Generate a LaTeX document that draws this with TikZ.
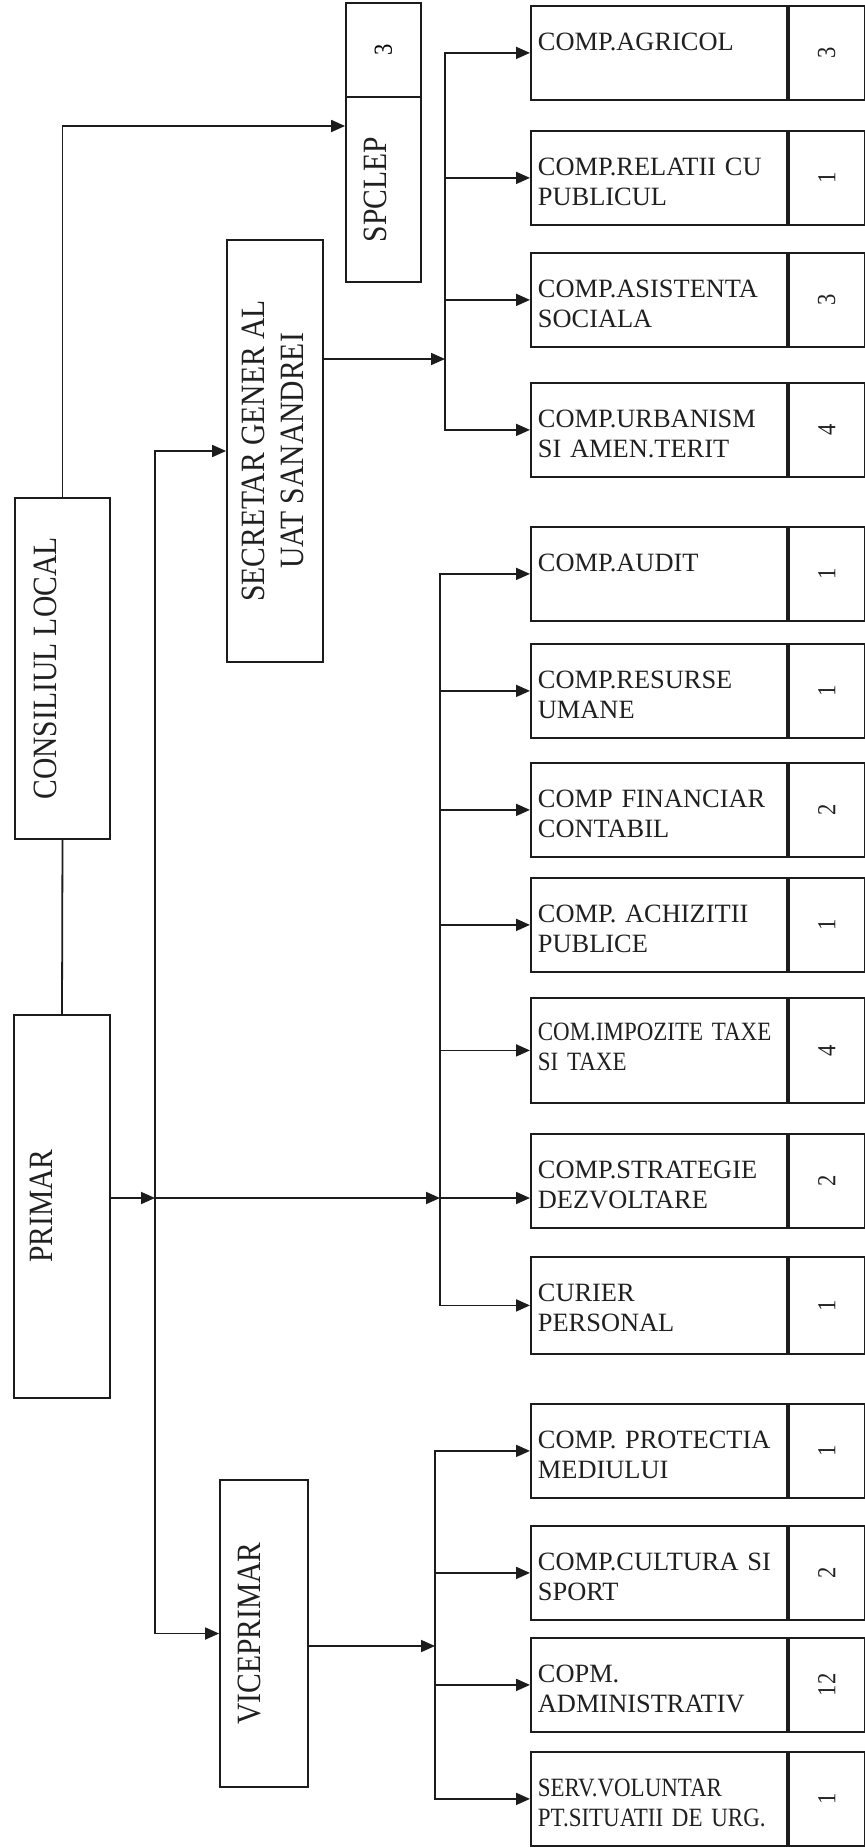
\documentclass[tikz,border=0pt]{standalone}
\usepackage{fontspec}
\setmainfont{Liberation Serif}
\newfontfamily\tightserif{Liberation Serif}[FakeStretch=0.87]
\usepackage{graphicx}
\usepackage{tikz}
\usetikzlibrary{arrows.meta, calc}
\definecolor{inkline}{HTML}{1C1C1C}
\definecolor{inktext}{HTML}{202020}
\tikzset{
  boss/.style={draw=inkline, line width=0.9pt, inner sep=0pt},
  vlbl/.style={rotate=90, font=\tightserif\fontsize{17}{19.5}\selectfont, text=inktext, inner sep=0pt, align=center},
  unit/.style={draw=inkline, line width=0.9pt, anchor=north west, minimum width=128pt, minimum height=47pt,
               text width=121pt, inner xsep=3.5pt, inner ysep=0pt, text height=22.5pt, text depth=24.5pt,
               align=left, font=\fontsize{13.2}{15}\selectfont, text=inktext},
  tight/.style={font=\tightserif\fontsize{13.2}{15}\selectfont},
  cnt/.style={draw=inkline, line width=0.9pt, anchor=north west, minimum width=38pt, minimum height=47pt,
              inner sep=0pt, font=\tightserif\fontsize{13}{15}\selectfont, text=inktext},
  link/.style={draw=inkline, line width=0.9pt},
  arr/.style={link, -{Triangle[length=7pt, width=6pt]}},
}
\begin{document}
\begin{tikzpicture}[x=0.5pt, y=-0.5pt]
  \useasboundingbox[fill=white] (0,0) rectangle (864,1848);
  % left column
  \node[boss, minimum width=47.5pt, minimum height=170.5pt] (cl) at (62.5,668.5) {};
  \node[vlbl] (cltxt) at (45,668.5) {CONSILIUL LOCAL};
  \node[boss, minimum width=48pt, minimum height=191.5pt] (pr) at (62,1206.5) {};
  \node[vlbl] (prtxt) at (41.5,1206) {PRIMAR};
  \node[boss, minimum width=48pt, minimum height=211pt] (sg) at (275,451) {};
  \node[vlbl] (sgtxt) at (273,451) {SECRETAR GENER AL\\UAT SANANDREI};
  \node[boss, minimum width=44pt, minimum height=153.5pt] (vp) at (264,1633.5) {};
  \node[vlbl] (vptxt) at (249,1633.5) {VICEPRIMAR};
  \node[boss, minimum width=37.5pt, minimum height=92.5pt] (sp) at (383.5,189.5) {};
  \node[vlbl] (sptxt) at (375.5,189.5) {SPCLEP};
  \node[boss, minimum width=37.5pt, minimum height=47pt, font=\tightserif\fontsize{13}{15}\selectfont] (spn) at (383.5,50) {\rotatebox{90}{3}};
  % compartments under the secretar
  \node[unit] (agr) at (530,5) {COMP.AGRICOL};
  \node[cnt] (agrn) at (agr.north east) {\rotatebox{90}{3}};
  \node[unit] (rel) at (530,130) {COMP.RELATII CU\\PUBLICUL};
  \node[cnt] (reln) at (rel.north east) {\rotatebox{90}{1}};
  \node[unit] (asi) at (530,252) {COMP.ASISTENTA\\SOCIALA};
  \node[cnt] (asin) at (asi.north east) {\rotatebox{90}{3}};
  \node[unit] (urb) at (530,382) {COMP.URBANISM\\SI AMEN.TERIT};
  \node[cnt] (urbn) at (urb.north east) {\rotatebox{90}{4}};
  % compartments under the primar
  \node[unit] (aud) at (530,526) {COMP.AUDIT};
  \node[cnt] (audn) at (aud.north east) {\rotatebox{90}{1}};
  \node[unit] (res) at (530,643) {COMP.RESURSE\\UMANE};
  \node[cnt] (resn) at (res.north east) {\rotatebox{90}{1}};
  \node[unit] (fin) at (530,762) {COMP FINANCIAR\\CONTABIL};
  \node[cnt] (finn) at (fin.north east) {\rotatebox{90}{2}};
  \node[unit] (ach) at (530,877) {COMP. ACHIZITII\\PUBLICE};
  \node[cnt] (achn) at (ach.north east) {\rotatebox{90}{1}};
  \node[unit, tight, minimum height=52.5pt, text height=21.5pt, text depth=31pt] (imp) at (530,997) {COM.IMPOZITE~TAXE\\SI TAXE};
  \node[cnt, minimum height=52.5pt] (impn) at (imp.north east) {\rotatebox{90}{4}};
  \node[unit] (str) at (530,1133) {COMP.STRATEGIE\\DEZVOLTARE};
  \node[cnt] (strn) at (str.north east) {\rotatebox{90}{2}};
  \node[unit, minimum height=48.5pt, text depth=26pt] (cur) at (530,1256) {CURIER\\PERSONAL};
  \node[cnt, minimum height=48.5pt] (curn) at (cur.north east) {\rotatebox{90}{1}};
  % compartments under the viceprimar
  \node[unit] (pro) at (530,1403) {COMP. PROTECTIA\\MEDIULUI};
  \node[cnt] (pron) at (pro.north east) {\rotatebox{90}{1}};
  \node[unit] (cul) at (530,1525) {COMP.CULTURA SI\\SPORT};
  \node[cnt] (culn) at (cul.north east) {\rotatebox{90}{2}};
  \node[unit] (adm) at (530,1637) {COPM.\\ADMINISTRATIV};
  \node[cnt] (admn) at (adm.north east) {\rotatebox{90}{12}};
  \node[unit, tight] (srv) at (530,1751) {SERV.VOLUNTAR\\PT.SITUATII DE URG.};
  \node[cnt] (srvn) at (srv.north east) {\rotatebox{90}{1}};
  % bus points
  \coordinate (hub) at (440,1198);
  \coordinate (busL) at (155,1198);
  \coordinate (sgin) at (445,359);
  \coordinate (vpin) at (435,1646);
  % connectors
  \draw[arr] (cl.north) |- ([yshift=31.75pt]sp.west);
  \draw[link] (cl.south) -- (pr.north);
  \draw[arr] (pr.east |- hub) -- (busL);
  \draw[arr] (busL) -- (hub);
  \draw[arr] (busL) |- (sg.west);
  \draw[arr] (busL) |- (vp.west);
  \draw[arr] (sg.east |- sgin) -- (sgin);
  \draw[arr] (sgin) |- (agr.west);
  \draw[arr] (sgin) |- (rel.west);
  \draw[arr] (sgin) |- (asi.west);
  \draw[arr] (sgin) |- (urb.west);
  \draw[arr] (hub) |- (aud.west);
  \draw[arr] (hub) |- (res.west);
  \draw[arr] (hub) |- (fin.west);
  \draw[arr] (hub) |- (ach.west);
  \draw[arr] (hub) |- (imp.west);
  \draw[arr] (hub) -- (str.west |- hub);
  \draw[arr] (hub) |- (cur.west);
  \draw[arr] (vp.east |- vpin) -- (vpin);
  \draw[arr] (vpin) |- (pro.west);
  \draw[arr] (vpin) |- (cul.west);
  \draw[arr] (vpin) |- (adm.west);
  \draw[arr] (vpin) |- (srv.west);
\end{tikzpicture}
\end{document}
